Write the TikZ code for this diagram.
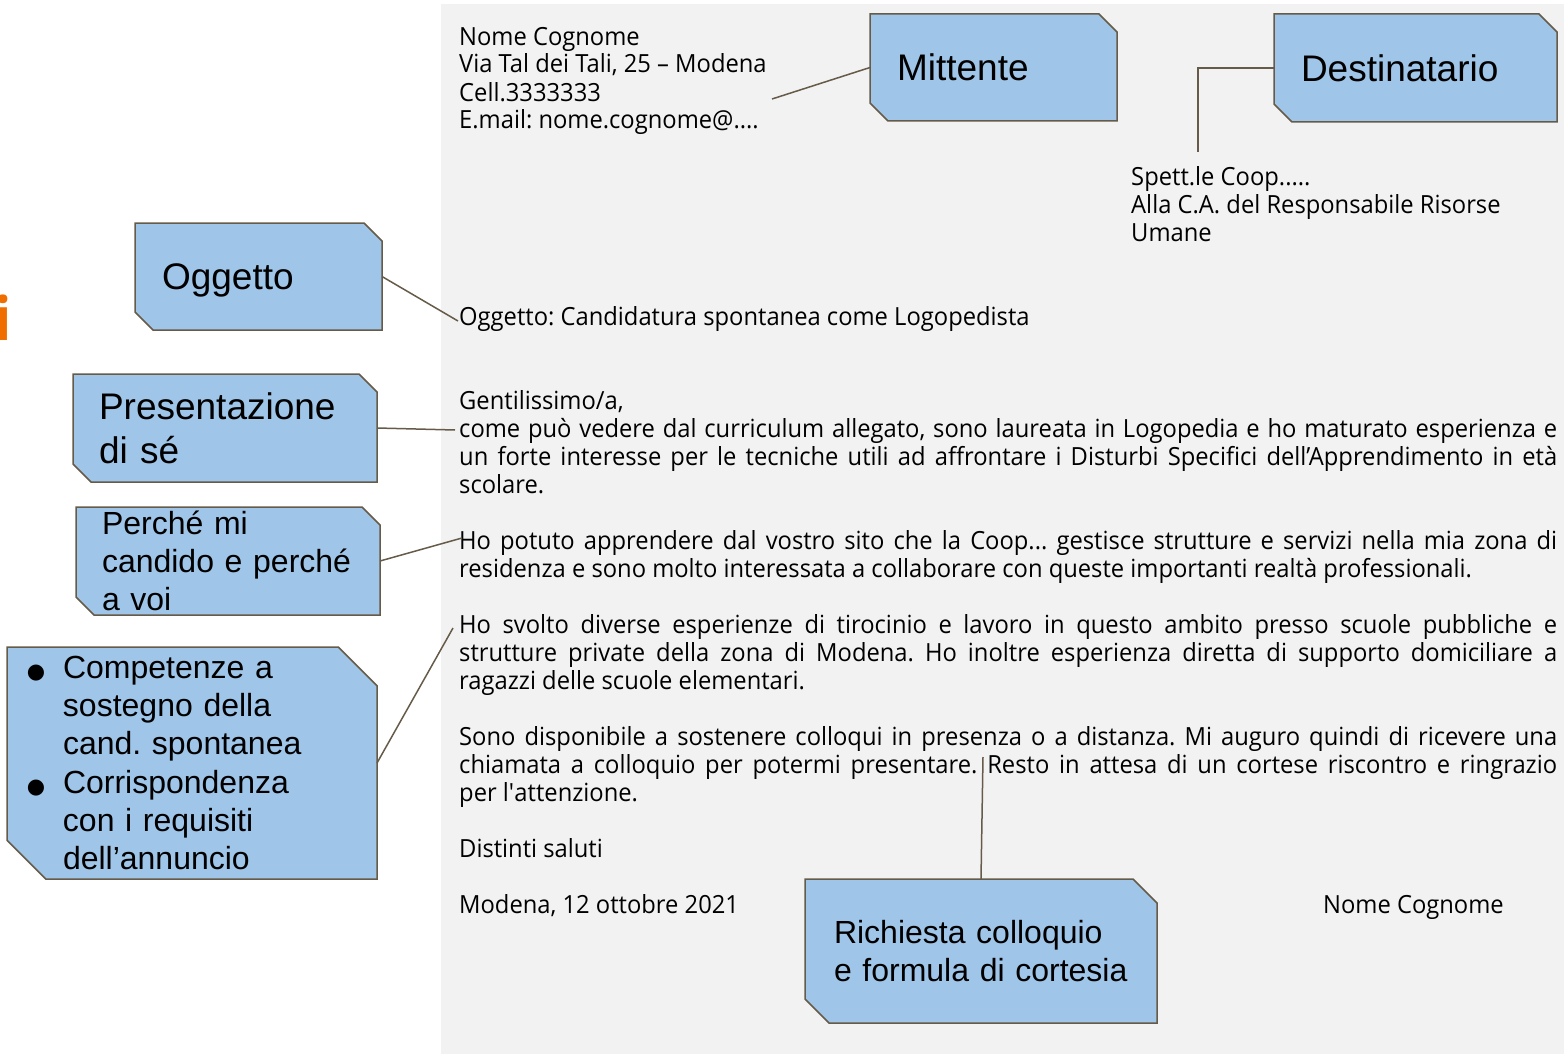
\documentclass[tikz,border=0pt]{standalone}
\usepackage{fontspec}
\setmainfont{Open Sans}[FakeStretch=0.95]
\newfontfamily\boxfont{Liberation Sans}
\newfontfamily\symfont{DejaVu Sans}
\usetikzlibrary{backgrounds}
\frenchspacing

\definecolor{pagegray}{HTML}{F2F2F2}
\definecolor{boxblue}{HTML}{9FC5E8}
\definecolor{boxline}{HTML}{665A48}
\definecolor{titleorange}{HTML}{F06E00}

% one justified line of the letter
\newcommand{\jl}[1]{\makebox[1098pt][s]{#1}}
\newcommand{\bul}{\makebox[36pt][l]{\symfont\fontsize{21}{21}\selectfont ●}}
\newcommand{\ind}{\hspace*{36pt}}
% blue box with two cut corners
\newcommand{\snip}[2]{%
  \filldraw[fill=boxblue, draw=boxline, line width=1.5pt] (#1.north west) -- ([xshift=-#2pt]#1.north east)
    -- ([yshift=-#2pt]#1.north east) -- (#1.south east) -- ([xshift=#2pt]#1.south west)
    -- ([yshift=#2pt]#1.south west) -- cycle;}

\tikzset{
  letter/.style={anchor=base west, inner sep=0pt, align=left, font=\fontsize{25}{28}\selectfont},
  callbox/.style={anchor=north west, inner ysep=0pt, outer sep=0pt, align=left},
  bigtext/.style={font=\boxfont\fontsize{37}{44}\selectfont},
  smalltext/.style={font=\boxfont\fontsize{32}{38.3}\selectfont},
  link/.style={draw=boxline, line width=1.5pt},
}

\begin{document}
\begin{tikzpicture}[x=1pt, y=-1pt]
    \useasboundingbox (0,0) rectangle (1564,1054);

    \node[anchor=base west, inner sep=0pt, text=titleorange, font=\bfseries\fontsize{60}{60}\selectfont] (title) at (-6,340) {i};

    % the letter (each node sits on the baseline of its last line)
    \node[letter] (sender) at (459,129) {Nome Cognome\\Via Tal dei Tali, 25 – Modena\\Cell.3333333\\E.mail: nome.cognome@....};
    \node[letter] (addressee) at (1131,241) {Spett.le Coop.....\\Alla C.A. del Responsabile Risorse\\Umane};
    \node[letter] (subject) at (459,325) {Oggetto: Candidatura spontanea come Logopedista};
    \node[letter] (greet) at (459,493) {Gentilissimo/a,\\
      \jl{come può vedere dal curriculum allegato, sono laureata in Logopedia e ho maturato esperienza e}\\
      \jl{un forte interesse per le tecniche utili ad affrontare i Disturbi Specifici dell’Apprendimento in età}\\
      scolare.};
    \node[letter] (why) at (459,577) {%
      \jl{Ho potuto apprendere dal vostro sito che la Coop... gestisce strutture e servizi nella mia zona di}\\
      residenza e sono molto interessata a collaborare con queste importanti realtà professionali.};
    \node[letter] (exper) at (459,689) {%
      \jl{Ho svolto diverse esperienze di tirocinio e lavoro in questo ambito presso scuole pubbliche e}\\
      \jl{strutture private della zona di Modena. Ho inoltre esperienza diretta di supporto domiciliare a}\\
      ragazzi delle scuole elementari.};
    \node[letter] (request) at (459,801) {%
      \jl{Sono disponibile a sostenere colloqui in presenza o a distanza. Mi auguro quindi di ricevere una}\\
      \jl{chiamata a colloquio per potermi presentare. Resto in attesa di un cortese riscontro e ringrazio}\\
      per l\textquotesingle attenzione.};
    \node[letter] (salute) at (459,857) {Distinti saluti};
    \node[letter] (place) at (459,913) {Modena, 12 ottobre 2021};
    \node[letter] (sign) at (1323,913) {Nome Cognome};

    % callouts
    \node[callbox, bigtext, inner xsep=27pt, text width=193pt, minimum height=107pt] (mitt) at (870,14) {Mittente};
    \node[callbox, bigtext, inner xsep=27pt, text width=229pt, minimum height=108pt] (dest) at (1274,14) {Destinatario};
    \node[callbox, bigtext, inner xsep=27pt, text width=193pt, minimum height=107pt, text depth=0pt] (ogg) at (135,223) {Oggetto};
    \node[callbox, bigtext, inner xsep=26pt, text width=252pt, minimum height=108pt] (pres) at (73,374) {Presentazione\\di sé};
    \node[callbox, smalltext, inner xsep=26pt, text width=252pt, minimum height=108pt] (perche) at (76,507) {Perché mi\\candido e perché\\a voi};
    \node[callbox, smalltext, inner xsep=20pt, text width=330pt, minimum height=232pt] (comp) at (7,647)
      {\bul Competenze a\\\ind sostegno della\\\ind cand. spontanea\\\bul Corrispondenza\\\ind con i requisiti\\\ind dell’annuncio};
    \node[callbox, smalltext, inner xsep=29pt, text width=294pt, minimum height=144pt] (rich) at (805,879) {Richiesta colloquio\\e formula di cortesia};

    \begin{scope}[on background layer]
      \fill[pagegray] (441,4) rectangle (1564,1054);
      \foreach \b/\c in {mitt/18, dest/18, ogg/18, pres/18, perche/18, comp/38.7, rich/24}
        \snip{\b}{\c};
    \end{scope}

    % connectors
    \coordinate (mittend) at (772,99);
    \coordinate (destend) at (1198,152);
    \coordinate (oggend) at (458,321);
    \coordinate (presend) at (455,430);
    \coordinate (perend) at (462,538);
    \coordinate (compend) at (453,628);
    \coordinate (richend) at (983,757);
    \draw[link] (mittend) -- (mitt.west);
    \draw[link] (dest.west) -| (destend);
    \draw[link] (ogg.east) -- (oggend);
    \draw[link] (pres.east) -- (presend);
    \draw[link] (perche.east) -- (perend);
    \draw[link] (comp.east) -- (compend);
    \draw[link] (rich.north) -- (richend);
\end{tikzpicture}
\end{document}
